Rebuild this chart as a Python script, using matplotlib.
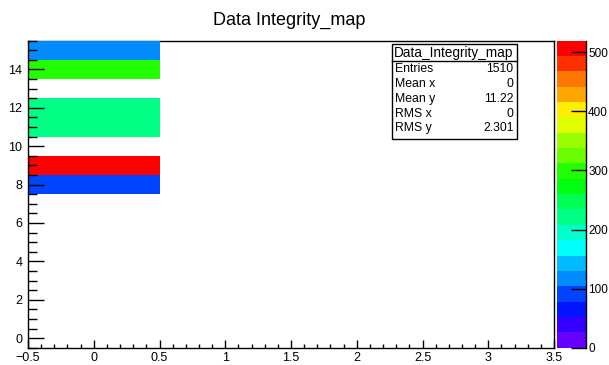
import colorsys
import numpy as np
import matplotlib
matplotlib.use("Agg")
import matplotlib.pyplot as plt
from matplotlib.colors import ListedColormap, BoundaryNorm
from matplotlib.patches import Rectangle
from matplotlib.lines import Line2D

plt.rcParams['font.family'] = ['Liberation Sans', 'DejaVu Sans']

# ---- data ----
title = "Data Integrity_map"
x_bin_values = [0, 0, 0, 0, 0, 0]
y_bin_values = [8, 9, 11, 12, 14, 15]
counts = [100, 520, 225, 225, 311, 129]
x_range = (-0.5, 3.5)
n_xbins = 4
y_range = (-0.5, 15.5)
n_ybins = 16
x_ticks = [-0.5, 0, 0.5, 1, 1.5, 2, 2.5, 3, 3.5]
x_ticklabels = ["\u22120.5", "0", "0.5", "1", "1.5", "2", "2.5", "3", "3.5"]
y_ticks = [0, 2, 4, 6, 8, 10, 12, 14]
z_ticks = [0, 100, 200, 300, 400, 500]
stats_name = "Data_Integrity_map"
stats_labels = ["Entries", "Mean x", "Mean y", "RMS x", "RMS y"]
stats_values = ["1510", "0", "11.22", "0", "2.301"]
n_contours = 20

# ---- figure ----
W, H = 609, 365
fig = plt.figure(figsize=(W / 100, H / 100), dpi=100)

def fx(x):
    return x / W

def fy(y):
    return 1 - y / H

L, R, T, B = 28, 554, 40.5, 347.7
ax = fig.add_axes([fx(L), fy(B), fx(R) - fx(L), fy(T) - fy(B)])

x_edges = np.linspace(x_range[0], x_range[1], n_xbins + 1)
y_edges = np.linspace(y_range[0], y_range[1], n_ybins + 1)
hist, _, _ = np.histogram2d(x_bin_values, y_bin_values, bins=[x_edges, y_edges], weights=counts)
zmax = hist.max()
zmasked = np.ma.masked_less_equal(hist.T, 0)

# ROOT "pretty" palette (50 colours, violet -> red), picked for 20 contours
pretty = []
for i in range(50):
    hue = 280 - (i + 1) * (280 / 50)
    pretty.append(colorsys.hls_to_rgb(max(hue, 0) / 360.0, 0.5, 1.0))
cols = [pretty[int((k + 0.99) * 50 / n_contours)] for k in range(n_contours)]
cmap = ListedColormap(cols)
levels = np.linspace(0, zmax, n_contours + 1)
norm = BoundaryNorm(levels, cmap.N)

mesh = ax.pcolormesh(x_edges, y_edges, zmasked, cmap=cmap, norm=norm, zorder=1)
ax.set_xlim(*x_range)
ax.set_ylim(*y_range)

for s in ax.spines.values():
    s.set_linewidth(1.0)
ax.spines['top'].set_zorder(0.5)

ax.set_xticks(x_ticks)
ax.set_xticklabels(x_ticklabels)
ax.set_xticks(np.arange(-0.5, 3.5001, 0.1), minor=True)
ax.set_yticks(y_ticks)
ax.set_yticks(np.arange(-0.5, 15.5001, 0.5), minor=True)
ax.tick_params(axis='x', which='major', direction='in', length=8 * 0.72, width=1, labelsize=9, pad=3)
ax.tick_params(axis='x', which='minor', direction='in', length=4 * 0.72, width=1)
ax.tick_params(axis='y', which='major', direction='in', length=16 * 0.72, width=1, labelsize=9, pad=4)
ax.tick_params(axis='y', which='minor', direction='in', length=8.5 * 0.72, width=1)

# ---- colour bar ----
cax = fig.add_axes([fx(556.5), fy(B), fx(586) - fx(556.5), fy(T) - fy(B)])
cb = fig.colorbar(mesh, cax=cax, boundaries=levels)
cb.outline.set_visible(False)
cax.set_ylim(0, zmax)
cax.set_yticks(z_ticks)
cax.tick_params(axis='y', which='major', direction='in', length=15 * 0.72, width=1, labelsize=8.5, pad=1.5)
cax.minorticks_off()
cax.add_line(Line2D([1, 1], [0, 1], transform=cax.transAxes, color='black', lw=1, clip_on=False))

# ---- title ----
fig.text(fx(289.5), fy(20), title, ha='center', va='center', fontsize=13)

# ---- stats box ----
bx0, bx1, by0, by1 = 391.5, 516.5, 44, 139.3
fig.patches.append(Rectangle((fx(bx0), fy(by1)), fx(bx1) - fx(bx0), fy(by0) - fy(by1),
                             transform=fig.transFigure, facecolor='white', edgecolor='black', lw=1, zorder=5))
sep = 61
fig.add_artist(Line2D([fx(bx0), fx(bx1)], [fy(sep), fy(sep)], transform=fig.transFigure, color='black', lw=1, zorder=6))
fig.text(fx((bx0 + bx1) / 2), fy(52.5), stats_name, ha='center', va='center', fontsize=9.8, zorder=7)
row_y = [69, 84, 99, 114, 128.5]
for lab, val, yy in zip(stats_labels, stats_values, row_y):
    fig.text(fx(395), fy(yy), lab, ha='left', va='center', fontsize=8.8, zorder=7)
    fig.text(fx(513.5), fy(yy), val, ha='right', va='center', fontsize=8.8, zorder=7)

fig.savefig("out.png", dpi=100)
